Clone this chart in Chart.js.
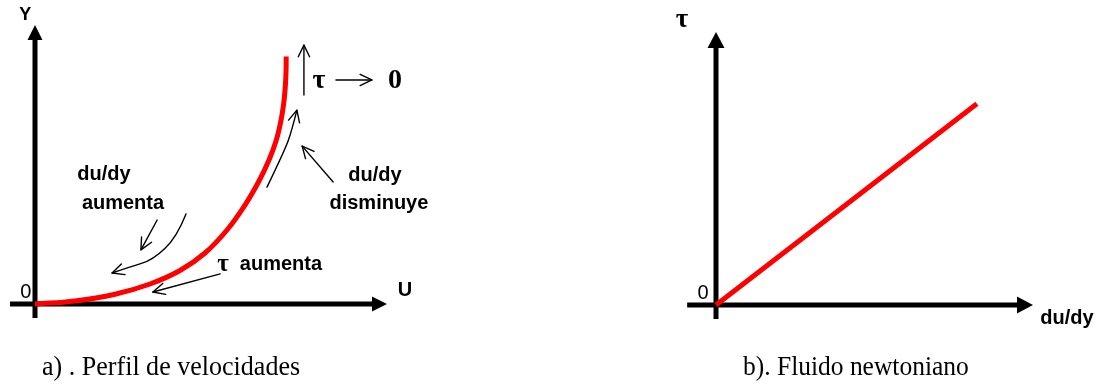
<!DOCTYPE html>
<html>
<head>
<meta charset="utf-8">
<script src="https://cdn.jsdelivr.net/npm/chart.js@4.4.1/dist/chart.umd.min.js"></script>
<style>
  body { margin: 0; background: #fff; }
  .panel { position: absolute; top: 0; height: 385px; }
  .pie { position: absolute; top: 352px; font: 28px "Liberation Serif", "Times New Roman", serif; color: #000; line-height: 1; white-space: nowrap; transform: scaleX(0.91); transform-origin: left top; }
</style>
</head>
<body>
<div class="panel" style="left:0;width:551px"><canvas id="perfil" width="551" height="385"></canvas></div>
<div class="panel" style="left:551px;width:552px"><canvas id="newton" width="552" height="385"></canvas></div>
<div class="pie" style="left:42px;transform:scaleX(0.93)">a) . Perfil de velocidades</div>
<div class="pie" style="left:743px">b). Fluido newtoniano</div>

<script>
// a) perfil de velocidades: U (horizontal) contra Y (vertical)
const perfilU = [0, 1.136, 2.273, 3.267, 4.119, 4.830, 5.455, 5.966, 6.364, 6.648, 6.847, 6.974, 7.060, 7.108, 7.131, 7.136];
const perfilY = [0, 0.108, 0.351, 0.717, 1.201, 1.828, 2.652, 3.548, 4.409, 5.161, 5.842, 6.487, 7.133, 7.742, 8.315, 8.871];

// b) fluido newtoniano: tau proporcional a du/dy
const newtonDuDy = [0, 8.23];
const newtonTau = [0, 7.37];

const ROJO = '#ff0000';
const SANS = '"Liberation Sans", Arial, sans-serif';
const SERIF = '"Liberation Serif", "Times New Roman", serif';

// ejes con punta rellena, dibujados antes de las curvas
const ejesPlugin = {
  id: 'ejes',
  beforeDatasetsDraw(chart, args, opts) {
    const { ctx, scales: { x, y } } = chart;
    const x0 = x.getPixelForValue(0), y0 = y.getPixelForValue(0);
    const xs = x.getPixelForValue(opts.xDesde), xe = x.getPixelForValue(x.max);
    const ys = y.getPixelForValue(opts.yDesde), ye = y.getPixelForValue(y.max);
    ctx.save();
    ctx.strokeStyle = '#000';
    ctx.fillStyle = '#000';
    ctx.lineWidth = opts.grosor;
    ctx.beginPath();
    ctx.moveTo(xs, y0); ctx.lineTo(xe - opts.punta, y0);
    ctx.moveTo(x0, ys); ctx.lineTo(x0, ye + opts.punta);
    ctx.stroke();
    ctx.beginPath();
    ctx.moveTo(xe, y0);
    ctx.lineTo(xe - opts.punta, y0 - opts.ancho);
    ctx.lineTo(xe - opts.punta, y0 + opts.ancho);
    ctx.closePath();
    ctx.moveTo(x0, ye);
    ctx.lineTo(x0 - opts.ancho, ye + opts.punta);
    ctx.lineTo(x0 + opts.ancho, ye + opts.punta);
    ctx.closePath();
    ctx.fill();
    ctx.restore();
  }
};

// textos y flechas finas de anotacion
const notasPlugin = {
  id: 'notas',
  afterDatasetsDraw(chart, args, opts) {
    const { ctx, scales: { x, y } } = chart;
    const px = p => [x.getPixelForValue(p[0]), y.getPixelForValue(p[1])];
    ctx.save();
    ctx.fillStyle = '#000';
    ctx.strokeStyle = '#000';
    ctx.textBaseline = 'middle';
    (opts.textos || []).forEach(t => {
      const [tx, ty] = px(t.pos);
      ctx.font = t.font;
      ctx.textAlign = t.align || 'center';
      ctx.fillText(t.texto, tx, ty);
    });
    ctx.lineWidth = 1.4;
    ctx.lineCap = 'round';
    ctx.lineJoin = 'round';
    (opts.flechas || []).forEach(f => {
      const pts = f.map(px);
      ctx.beginPath();
      ctx.moveTo(pts[0][0], pts[0][1]);
      if (pts.length === 2) {
        ctx.lineTo(pts[1][0], pts[1][1]);
      } else {
        for (let i = 1; i < pts.length - 1; i++) {
          const ult = i === pts.length - 2;
          const mx = ult ? pts[i + 1][0] : (pts[i][0] + pts[i + 1][0]) / 2;
          const my = ult ? pts[i + 1][1] : (pts[i][1] + pts[i + 1][1]) / 2;
          ctx.quadraticCurveTo(pts[i][0], pts[i][1], mx, my);
        }
      }
      ctx.stroke();
      const a = pts[pts.length - 2], b = pts[pts.length - 1];
      const ang = Math.atan2(b[1] - a[1], b[0] - a[0]);
      const L = 13, abre = 0.45;
      ctx.beginPath();
      ctx.moveTo(b[0] - L * Math.cos(ang - abre), b[1] - L * Math.sin(ang - abre));
      ctx.lineTo(b[0], b[1]);
      ctx.lineTo(b[0] - L * Math.cos(ang + abre), b[1] - L * Math.sin(ang + abre));
      ctx.stroke();
    });
    ctx.restore();
  }
};

const escalasOcultas = {
  x: { type: 'linear', min: 0, max: 10, display: false },
  y: { type: 'linear', min: 0, max: 10, display: false }
};

new Chart(document.getElementById('perfil'), {
  type: 'line',
  data: {
    datasets: [{
      data: perfilU.map((u, i) => ({ x: u, y: perfilY[i] })),
      borderColor: ROJO,
      borderWidth: 5,
      pointRadius: 0,
      tension: 0.4,
      clip: false
    }]
  },
  options: {
    responsive: false,
    animation: false,
    devicePixelRatio: 1,
    layout: { padding: { left: 35, right: 164, top: 25, bottom: 81 } },
    scales: escalasOcultas,
    plugins: {
      legend: { display: false },
      tooltip: { enabled: false },
      ejes: { xDesde: -0.71, yDesde: -0.5, grosor: 5, punta: 15, ancho: 7.5 },
      notas: {
        textos: [
          { texto: 'Y', pos: [-0.28, 10.36], font: 'bold 18px ' + SANS },
          { texto: '0', pos: [-0.26, 0.43], font: '20px ' + SANS },
          { texto: 'U', pos: [10.51, 0.47], font: 'bold 20px ' + SANS },
          { texto: 'du/dy', pos: [1.96, 4.63], font: 'bold 20px ' + SANS },
          { texto: 'aumenta', pos: [2.50, 3.62], font: 'bold 20px ' + SANS },
          { texto: 'du/dy', pos: [9.66, 4.59], font: 'bold 20px ' + SANS },
          { texto: 'disminuye', pos: [9.77, 3.62], font: 'bold 20px ' + SANS },
          { texto: 'τ', pos: [5.34, 1.40], font: 'bold 25px ' + SERIF },
          { texto: 'aumenta', pos: [5.82, 1.40], font: 'bold 20px ' + SANS, align: 'left' },
          { texto: 'τ', pos: [8.07, 7.99], font: 'bold 28px ' + SERIF },
          { texto: '0', pos: [10.23, 7.99], font: 'bold 28px ' + SERIF }
        ],
        flechas: [
          [[7.64, 7.49], [7.64, 9.28]],
          [[8.55, 8.03], [9.57, 8.03]],
          [[6.59, 4.19], [7.10, 5.52], [7.30, 6.24], [7.44, 6.95]],
          [[8.47, 4.37], [7.59, 5.66]],
          [[3.47, 3.01], [3.01, 1.94]],
          [[4.29, 3.23], [4.03, 2.40], [3.35, 1.58], [2.70, 1.33], [2.19, 1.11]],
          [[5.26, 1.08], [3.35, 0.43]]
        ]
      }
    }
  },
  plugins: [ejesPlugin, notasPlugin]
});

new Chart(document.getElementById('newton'), {
  type: 'line',
  data: {
    datasets: [{
      data: newtonDuDy.map((g, i) => ({ x: g, y: newtonTau[i] })),
      borderColor: ROJO,
      borderWidth: 5,
      pointRadius: 0,
      clip: false
    }]
  },
  options: {
    responsive: false,
    animation: false,
    devicePixelRatio: 1,
    layout: { padding: { left: 165, right: 70, top: 32, bottom: 80 } },
    scales: escalasOcultas,
    plugins: {
      legend: { display: false },
      tooltip: { enabled: false },
      ejes: { xDesde: -0.91, yDesde: -0.51, grosor: 5, punta: 16, ancho: 8.5 },
      notas: {
        textos: [
          { texto: 'τ', pos: [-1.07, 10.44], font: 'bold 27px ' + SERIF },
          { texto: '0', pos: [-0.41, 0.44], font: '20px ' + SANS },
          { texto: 'du/dy', pos: [11.07, -0.48], font: 'bold 20px ' + SANS }
        ]
      }
    }
  },
  plugins: [ejesPlugin, notasPlugin]
});
</script>
</body>
</html>
